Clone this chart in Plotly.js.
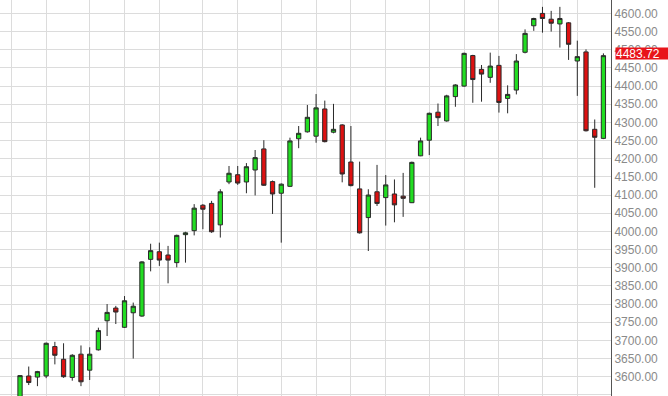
<!DOCTYPE html>
<html>
<head>
<meta charset="utf-8">
<script src="https://cdn.plot.ly/plotly-3.0.1.min.js"></script>
<style>html,body{margin:0;padding:0;background:#fff;}#chart{width:668px;height:396px;}</style>
</head>
<body>
<div id="chart"></div>
<script>
// Weekly candles (index = week number)
const weeks = Array.from({length: 68}, (_, i) => i);
const openVals  = [3530,3602,3599,3602,3683,3648,3598,3662,3618,3674,3754,3789,3736,3776,3767,3923,3944,3935,3914,3991,4002,4072,4077,4018,4136,4156,4136,4169,4227,4137,4105,4124,4255,4274,4262,4337,4273,4293,4191,4117,4038,4109,4093,4103,4097,4079,4208,4251,4328,4304,4371,4400,4484,4446,4424,4457,4366,4389,4493,4566,4600,4584,4571,4574,4469,4494,4281,4256];
const highVals  = [3604,3628,3616,3694,3696,3692,3662,3686,3681,3735,3800,3795,3822,3804,3918,3966,3969,3960,3991,3999,4075,4075,4084,4116,4180,4180,4188,4224,4251,4140,4132,4258,4290,4348,4378,4360,4351,4295,4290,4192,4116,4183,4155,4143,4161,4192,4258,4327,4352,4376,4405,4492,4486,4458,4492,4483,4402,4488,4556,4588,4618,4607,4618,4576,4525,4501,4308,4490];
const lowVals   = [3520,3577,3574,3596,3634,3597,3589,3574,3591,3672,3712,3745,3734,3650,3765,3890,3905,3857,3901,3914,3989,4006,3996,3983,4130,4128,4105,4099,4125,4048,3969,4122,4229,4272,4244,4245,4270,4135,4124,3994,3946,4070,4016,4025,4040,4078,4207,4210,4290,4302,4343,4398,4354,4357,4409,4327,4325,4377,4490,4552,4547,4550,4506,4472,4373,4275,4120,4254];
const closeVals = [3603,3584,3614,3692,3659,3600,3659,3586,3662,3727,3777,3778,3809,3794,3916,3947,3921,3921,3989,3996,4064,4061,3999,4109,4160,4133,4178,4203,4127,4103,4130,4249,4270,4314,4340,4247,4281,4158,4126,3996,4100,4077,4128,4073,4091,4190,4249,4325,4313,4373,4403,4490,4418,4433,4455,4355,4377,4469,4545,4586,4586,4573,4586,4515,4481,4277,4259,4483.72];
// Vertical grid lines at month starts (week indices)
const monthStarts = [-1,3,8,12,16,21,25,30,34,38,42,47,51,55,60,64];
const priceTicks = [3550,3600,3650,3700,3750,3800,3850,3900,3950,4000,4050,4100,4150,4200,4250,4300,4350,4400,4450,4500,4550,4600];

const lastClose = closeVals[closeVals.length - 1];

const trace = {
  type: 'candlestick',
  x: weeks,
  open: openVals, high: highVals, low: lowVals, close: closeVals,
  increasing: {line: {color: '#2a2a2a', width: 1}, fillcolor: '#22dd22'},
  decreasing: {line: {color: '#2a2a2a', width: 1}, fillcolor: '#dd1111'},
  whiskerwidth: 0,
  hoverinfo: 'skip'
};

const layout = {
  width: 668, height: 396,
  margin: {l: 0, r: 57, t: 0, b: 0, pad: 0},
  paper_bgcolor: '#ffffff', plot_bgcolor: '#ffffff',
  showlegend: false,
  font: {family: 'Liberation Sans, Arial, sans-serif', size: 12, color: '#8a8a8a'},
  xaxis: {
    range: [-2.3, 67.87],
    tickmode: 'array', tickvals: monthStarts, showticklabels: false,
    ticks: '', showgrid: true, gridcolor: '#dcdcdc', gridwidth: 1,
    zeroline: false, showline: false,
    rangeslider: {visible: false}, fixedrange: true
  },
  yaxis: {
    side: 'right',
    range: [3546.9, 4636.9],
    tickmode: 'array', tickvals: priceTicks,
    ticktext: priceTicks.map(v => v.toFixed(2)),
    ticks: '', showgrid: true, gridcolor: '#dcdcdc', gridwidth: 1,
    zeroline: false, showline: true, linecolor: '#555555', linewidth: 1,
    tickfont: {family: 'Liberation Sans, Arial, sans-serif', size: 12, color: '#8a8a8a'},
    fixedrange: true
  },
  annotations: [{
    xref: 'paper', yref: 'y', x: 1, y: lastClose,
    xanchor: 'left', yanchor: 'middle', xshift: 4, yshift: 2.5,
    text: lastClose.toFixed(2), showarrow: false,
    font: {family: 'Liberation Sans, Arial, sans-serif', size: 12, color: '#ffffff'},
    bgcolor: '#e8141a', borderpad: 0, width: 53, height: 11, align: 'left'
  }]
};

Plotly.newPlot('chart', [trace], layout, {staticPlot: true, displayModeBar: false});
</script>
</body>
</html>
